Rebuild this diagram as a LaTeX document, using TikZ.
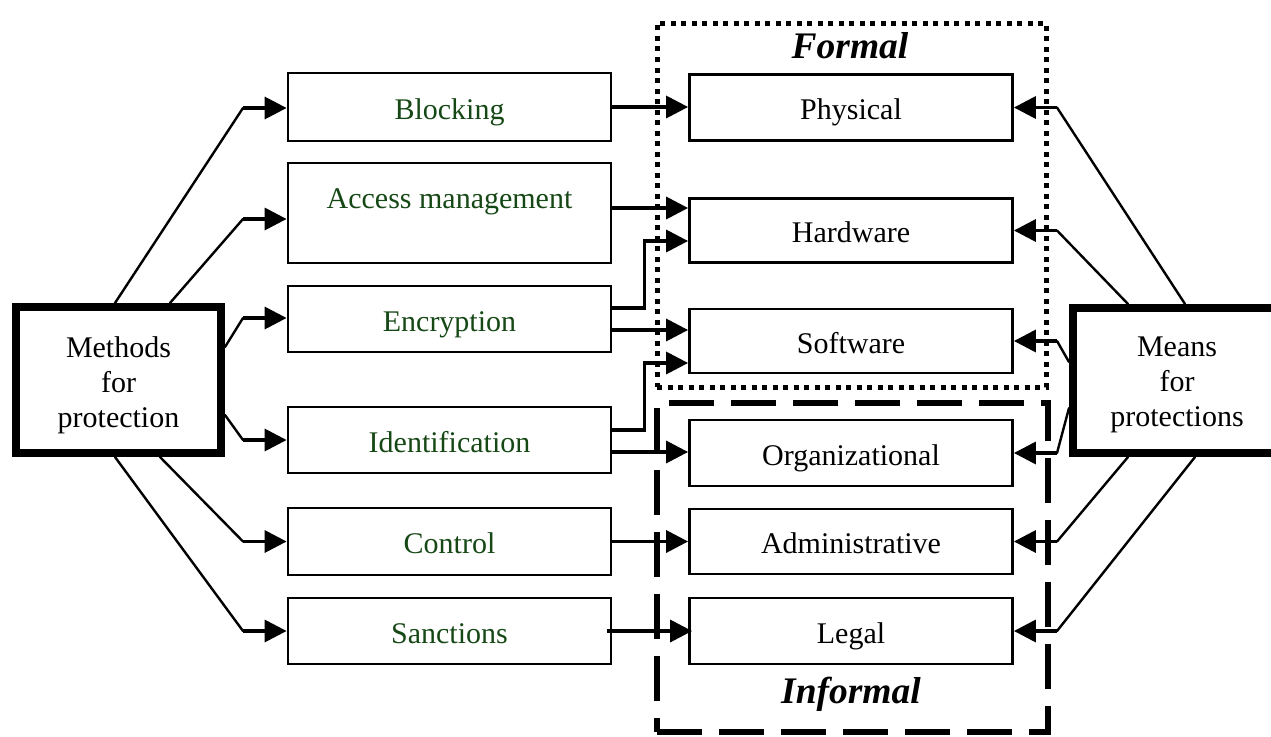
\documentclass[tikz,border=0pt]{standalone}
\usepackage{fontspec}
\setmainfont{Liberation Serif}
\usetikzlibrary{arrows.meta,calc}
\definecolor{grn}{RGB}{22,72,22}
\begin{document}
\begin{tikzpicture}[x=1pt,y=-1pt,
  box/.style={draw, line width=2.8pt, inner sep=0pt, minimum width=323pt,
    font=\fontsize{30}{35}\selectfont, text height=24pt, text depth=0pt},
  midbox/.style={box, text=grn},
  bigbox/.style={draw, line width=8pt, inner sep=0pt},
  lbl/.style={font=\fontsize{30}{35}\selectfont, align=center, inner sep=0pt},
  diag/.style={line width=2.4pt, line cap=round},
  arr/.style={line width=3.4pt, -{Triangle[length=22pt,width=22pt]}},
  title/.style={font=\fontsize{37.5}{40}\selectfont\bfseries\itshape, inner sep=0pt, anchor=base},
  dotframe/.style={draw, line width=5pt, dash pattern=on 5pt off 5.5pt, inner sep=0pt},
  dashframe/.style={draw, line width=5.5pt, dash pattern=on 45pt off 17pt, inner sep=0pt}
]
\useasboundingbox (0,0) rectangle (1271,736);

% frames
\node[dotframe, minimum width=389pt, minimum height=364pt] (formalbox) at (851.5,205) {};
\node[dashframe, minimum width=391pt, minimum height=329pt] (informalbox) at (852.5,567.5) {};
\node[title] (formalT) at (850,58) {Formal};
\node[title] (informalT) at (851,703) {Informal};

% middle column
\node[midbox, minimum height=68pt] (Blk) at (449.5,107) {Blocking};
\node[box, minimum height=100pt] (Acc) at (449.5,213) {};
\node[lbl, text=grn, anchor=base] (AccT) at (449.5,208) {Access management};
\node[midbox, minimum height=66pt] (Enc) at (449.5,319) {Encryption};
\node[midbox, minimum height=66pt] (Idn) at (449.5,440) {Identification};
\node[midbox, minimum height=67pt] (Ctl) at (449.5,541.5) {Control};
\node[midbox, minimum height=66pt] (San) at (449.5,631) {Sanctions};

% right column
\node[box, minimum height=66pt] (Phy) at (851,107.5) {Physical};
\node[box, minimum height=64pt] (Hw) at (851,230.5) {Hardware};
\node[box, minimum height=64pt] (Sw) at (851,341) {Software};
\node[box, minimum height=66pt] (Org) at (851,453) {Organizational};
\node[box, minimum height=65pt] (Adm) at (851,541.5) {Administrative};
\node[box, minimum height=66pt] (Leg) at (851,631) {Legal};

% big boxes
\node[bigbox, minimum width=205pt, minimum height=146pt] (Meth) at (118.5,380) {};
\node[lbl] (MethT) at (118.5,385) {Methods\\for\\protection};
\node[bigbox, minimum width=208pt, minimum height=145pt] (Mean) at (1177,380.5) {};
\node[lbl] (MeanT) at (1177,385) {Means\\for\\protections};

% left knees
\coordinate (kL1) at (243,108);
\coordinate (kL2) at (243,219);
\coordinate (kL3) at (243,318);
\coordinate (kL4) at (243,440);
\coordinate (kL5) at (243,541.5);
\coordinate (kL6) at (243,631);

\draw[diag] ($(Meth.north)+(-3.5,0)$) -- (kL1);
\draw[diag] ($(Meth.north)+(51.5,0)$) -- (kL2);
\draw[diag] ($(Meth.east)+(0,-33)$) -- (kL3);
\draw[diag] ($(Meth.east)+(0,35)$) -- (kL4);
\draw[diag] ($(Meth.south)+(41.5,0)$) -- (kL5);
\draw[diag] ($(Meth.south)+(-3.5,0)$) -- (kL6);
\draw[arr] (kL1) -- (kL1 -| Blk.west);
\draw[arr] (kL2) -- (kL2 -| Acc.west);
\draw[arr] (kL3) -- (kL3 -| Enc.west);
\draw[arr] (kL4) -- (kL4 -| Idn.west);
\draw[arr] (kL5) -- (kL5 -| Ctl.west);
\draw[arr] (kL6) -- (kL6 -| San.west);

% right knees
\coordinate (kR1) at (1057,107.5);
\coordinate (kR2) at (1057,230.5);
\coordinate (kR3) at (1057,341);
\coordinate (kR4) at (1057,453);
\coordinate (kR5) at (1057,541.5);
\coordinate (kR6) at (1057,631);

\draw[diag] ($(Mean.north)+(8,0)$) -- (kR1);
\draw[diag] ($(Mean.north)+(-49,0)$) -- (kR2);
\draw[diag] ($(Mean.west)+(0,-18.5)$) -- (kR3);
\draw[diag] ($(Mean.west)+(0,27.5)$) -- (kR4);
\draw[diag] ($(Mean.south)+(-49,0)$) -- (kR5);
\draw[diag] ($(Mean.south)+(18,0)$) -- (kR6);
\draw[arr] (kR1) -- (kR1 -| Phy.east);
\draw[arr] (kR2) -- (kR2 -| Hw.east);
\draw[arr] (kR3) -- (kR3 -| Sw.east);
\draw[arr] (kR4) -- (kR4 -| Org.east);
\draw[arr] (kR5) -- (kR5 -| Adm.east);
\draw[arr] (kR6) -- (kR6 -| Leg.east);

% middle connectors
\draw[arr] (Blk.east) -- (Blk.east -| Phy.west);
\draw[arr] ($(Acc.east)+(0,-5)$) -- ($(Hw.west)+(0,-22.5)$);
\draw[arr] ($(Enc.east)+(0,-11)$) -- ++(32,0) |- ($(Hw.west)+(0,10.5)$);
\draw[arr] ($(Enc.east)+(0,11)$) -- ($(Sw.west)+(0,-11)$);
\draw[arr] ($(Idn.east)+(0,-10)$) -- ++(32,0) |- ($(Sw.west)+(0,22)$);
\draw[arr] ($(Idn.east)+(0,12)$) -- ($(Org.west)+(0,-1)$);
\draw[arr] (Ctl.east) -- (Adm.west);
\draw[arr] ($(San.east)+(-5,0)$) -- ($(Leg.west)+(4,0)$);
\end{tikzpicture}
\end{document}
